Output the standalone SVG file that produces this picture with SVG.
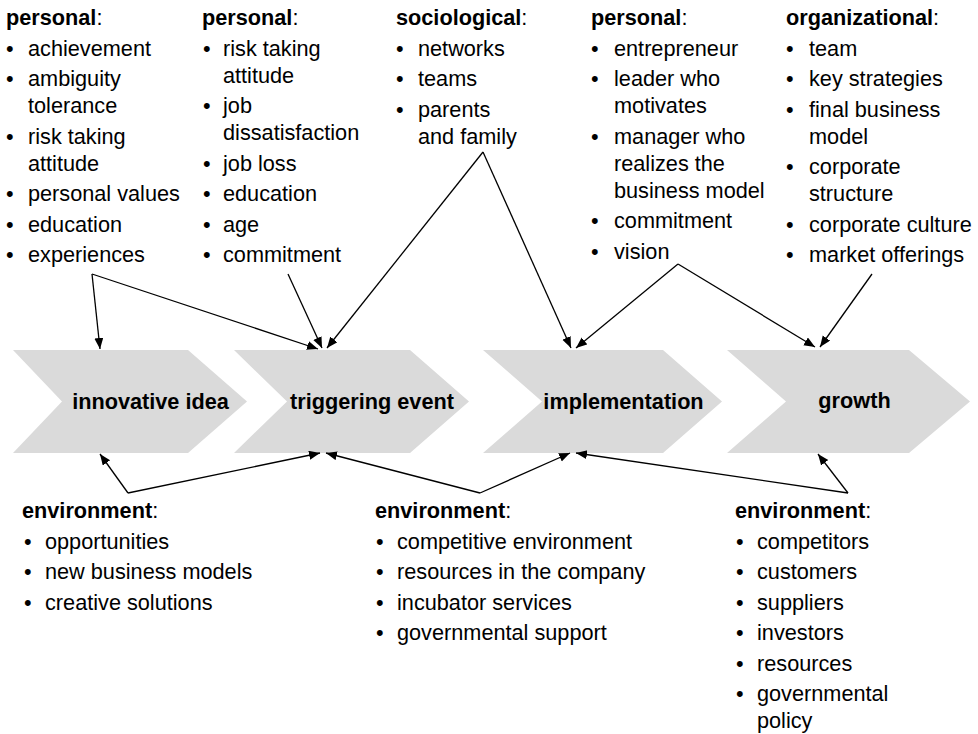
<svg xmlns="http://www.w3.org/2000/svg" width="978" height="734" viewBox="0 0 978 734">
<defs>
<style>
.t{font-family:"Liberation Sans",Arial,sans-serif;font-size:21.7px;fill:#000}
.b{font-weight:bold}
.lbl{font-family:"Liberation Sans",Arial,sans-serif;font-size:21.7px;font-weight:bold;fill:#000;text-anchor:middle}
.chev{fill:#dadada;stroke:none}
.con{fill:none;stroke:#000;stroke-width:1.3;marker-end:url(#ah)}
</style>
<marker id="ah" markerUnits="userSpaceOnUse" markerWidth="12" markerHeight="10" refX="11" refY="4.5" orient="auto">
<path d="M0,0 L11,4.5 L0,9 Z" fill="#000"/>
</marker>
</defs>
<rect width="978" height="734" fill="#fff"/>

<g id="chev-innovative">
<polygon class="chev" points="13,350 188,350 247,401.5 188,453 13,453 62,401.5"/>
<text class="lbl" x="150.5" y="409">innovative idea</text>
</g>
<g id="chev-triggering">
<polygon class="chev" points="234,350 410,350 469,401.5 410,453 234,453 287,401.5"/>
<text class="lbl" x="372" y="409">triggering event</text>
</g>
<g id="chev-implementation">
<polygon class="chev" points="483,350 663,350 722,401.5 663,453 483,453 542,401.5"/>
<text class="lbl" x="623.5" y="409">implementation</text>
</g>
<g id="chev-growth">
<polygon class="chev" points="727,350 909,350 970,401.5 909,453 727,453 786,401.5"/>
<text class="lbl" x="854.5" y="408">growth</text>
</g>

<g id="personal1" class="t">
<text x="6" y="25"><tspan class="b">personal</tspan>:</text>
<text x="6" y="55.5">•</text><text x="28" y="55.5">achievement</text>
<text x="6" y="86">•</text><text x="28" y="86">ambiguity</text>
<text x="28" y="113">tolerance</text>
<text x="6" y="143.5">•</text><text x="28" y="143.5">risk taking</text>
<text x="28" y="170.5">attitude</text>
<text x="6" y="201">•</text><text x="28" y="201">personal values</text>
<text x="6" y="231.5">•</text><text x="28" y="231.5">education</text>
<text x="6" y="262">•</text><text x="28" y="262">experiences</text>
</g>

<g id="personal2" class="t">
<text x="202" y="25"><tspan class="b">personal</tspan>:</text>
<text x="203" y="55.5">•</text><text x="223" y="55.5">risk taking</text>
<text x="223" y="82.5">attitude</text>
<text x="203" y="113">•</text><text x="223" y="113">job</text>
<text x="223" y="140">dissatisfaction</text>
<text x="203" y="170.5">•</text><text x="223" y="170.5">job loss</text>
<text x="203" y="201">•</text><text x="223" y="201">education</text>
<text x="203" y="231.5">•</text><text x="223" y="231.5">age</text>
<text x="203" y="262">•</text><text x="223" y="262">commitment</text>
</g>

<g id="sociological" class="t">
<text x="396" y="25"><tspan class="b">sociological</tspan>:</text>
<text x="396" y="55.5">•</text><text x="418" y="55.5">networks</text>
<text x="396" y="86">•</text><text x="418" y="86">teams</text>
<text x="396" y="116.5">•</text><text x="418" y="116.5">parents</text>
<text x="418" y="143.5">and family</text>
</g>

<g id="personal3" class="t">
<text x="591" y="25"><tspan class="b">personal</tspan>:</text>
<text x="591" y="55.5">•</text><text x="614" y="55.5">entrepreneur</text>
<text x="591" y="86">•</text><text x="614" y="86">leader who</text>
<text x="614" y="113">motivates</text>
<text x="591" y="143.5">•</text><text x="614" y="143.5">manager who</text>
<text x="614" y="170.5">realizes the</text>
<text x="614" y="197.5">business model</text>
<text x="591" y="228">•</text><text x="614" y="228">commitment</text>
<text x="591" y="258.5">•</text><text x="614" y="258.5">vision</text>
</g>

<g id="organizational" class="t">
<text x="786" y="25"><tspan class="b">organizational</tspan>:</text>
<text x="786" y="55.5">•</text><text x="809" y="55.5">team</text>
<text x="786" y="86">•</text><text x="809" y="86">key strategies</text>
<text x="786" y="116.5">•</text><text x="809" y="116.5">final business</text>
<text x="809" y="143.5">model</text>
<text x="786" y="174">•</text><text x="809" y="174">corporate</text>
<text x="809" y="201">structure</text>
<text x="786" y="231.5">•</text><text x="809" y="231.5">corporate culture</text>
<text x="786" y="262">•</text><text x="809" y="262">market offerings</text>
</g>

<g id="environment1" class="t">
<text x="22" y="518"><tspan class="b">environment</tspan>:</text>
<text x="24" y="548.5">•</text><text x="45" y="548.5">opportunities</text>
<text x="24" y="579">•</text><text x="45" y="579">new business models</text>
<text x="24" y="609.5">•</text><text x="45" y="609.5">creative solutions</text>
</g>

<g id="environment2" class="t">
<text x="375" y="518"><tspan class="b">environment</tspan>:</text>
<text x="376" y="548.5">•</text><text x="397" y="548.5">competitive environment</text>
<text x="376" y="579">•</text><text x="397" y="579">resources in the company</text>
<text x="376" y="609.5">•</text><text x="397" y="609.5">incubator services</text>
<text x="376" y="640">•</text><text x="397" y="640">governmental support</text>
</g>

<g id="environment3" class="t">
<text x="735" y="518"><tspan class="b">environment</tspan>:</text>
<text x="736" y="548.5">•</text><text x="757" y="548.5">competitors</text>
<text x="736" y="579">•</text><text x="757" y="579">customers</text>
<text x="736" y="609.5">•</text><text x="757" y="609.5">suppliers</text>
<text x="736" y="640">•</text><text x="757" y="640">investors</text>
<text x="736" y="670.5">•</text><text x="757" y="670.5">resources</text>
<text x="736" y="701">•</text><text x="757" y="701">governmental</text>
<text x="757" y="728">policy</text>
</g>

<g id="connectors">
<path class="con" d="M92,274 L100,349"/>
<path class="con" d="M92,274 L318,349"/>
<path class="con" d="M288,274 L322,348"/>
<path class="con" d="M483,152 L327,348"/>
<path class="con" d="M483,152 L571,348"/>
<path class="con" d="M678,264 L576,348"/>
<path class="con" d="M678,264 L815,347"/>
<path class="con" d="M872,274 L820,347"/>
<path class="con" d="M128,493 L100,454"/>
<path class="con" d="M128,493 L320,453"/>
<path class="con" d="M480,493 L326,453"/>
<path class="con" d="M480,493 L570,453"/>
<path class="con" d="M848,493 L576,453"/>
<path class="con" d="M848,493 L818,454"/>
</g>
</svg>
